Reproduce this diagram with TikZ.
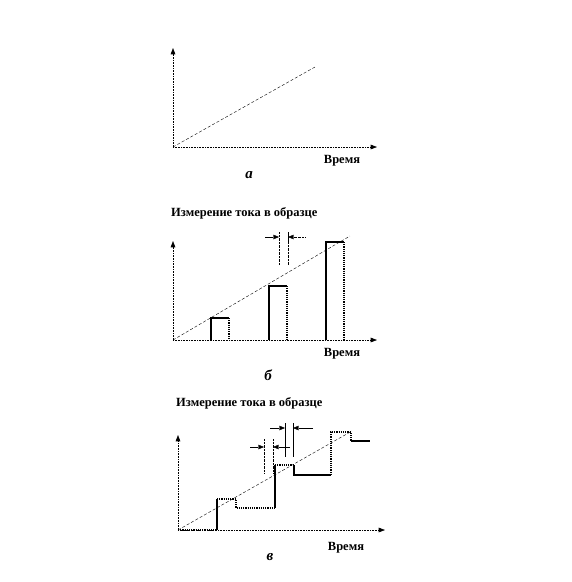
\documentclass[tikz,border=0pt]{standalone}
\usepackage{fontspec}
\setmainfont{Liberation Serif}
\usetikzlibrary{arrows.meta,calc}
\tikzset{
  ax/.style={densely dotted, semithick, -{Triangle[length=2.2mm,width=1.6mm]}},
  ref/.style={densely dashed, thin},
  lvl/.style={very thick, line join=miter},
  lvld/.style={very thick, densely dotted},
  gap/.style={-{Triangle[length=2mm,width=1.6mm]}, thin},
  lbl/.style={font=\bfseries\fontsize{12.5}{14}\selectfont, inner sep=0pt},
  ttl/.style={font=\bfseries\fontsize{12.5}{14}\selectfont, inner sep=0pt, anchor=west},
  tag/.style={font=\bfseries\itshape\fontsize{15}{16}\selectfont, inner sep=0pt},
}
\begin{document}
\begin{tikzpicture}[x=1pt,y=-1pt]
  \useasboundingbox (0,0) rectangle (572,582);
  % --- a: linear sweep
  \coordinate (oa) at (173,147);
  \draw[ax] (oa) -- (173,48);
  \draw[ax] (oa) -- (377,147);
  \draw[ref] (oa) -- (315,67);
  \node[lbl] (ta) at (342,161) {Время};
  \node[tag] (na) at (249,175) {а};
  % --- b: pulses
  \node[ttl] (hb) at (171,213) {Измерение тока в образце};
  \coordinate (ob) at (173,340);
  \draw[ax] (ob) -- (173,241);
  \draw[ax] (ob) -- (377,340);
  \draw[ref] (ob) -- (350,236);
  \foreach \xa/\xb/\yt in {211/229/318, 269/287/286, 326/344/242} {
    \draw[lvl] (\xa,340) -- (\xa,\yt) -- (\xb,\yt);
    \draw[lvld] (\xb,\yt) -- (\xb,340);
  }
  \draw[densely dotted] (279,232) -- (279,265);
  \draw[densely dotted] (288,242) -- (288,265);
  \draw[thin] (288,232) -- (288,242);
  \draw[gap] (265,237) -- (279,237);
  \draw[gap, densely dotted] (305,237) -- (288,237);
  \node[lbl] (tb) at (342,354) {Время};
  \node[tag] (nb) at (268,375) {б};
  % --- v: staircase
  \node[ttl] (hc) at (176,403) {Измерение тока в образце};
  \coordinate (oc) at (178,530);
  \draw[ax] (oc) -- (178,435);
  \draw[ax] (oc) -- (385,530);
  \draw[ref] (oc) -- (352,431);
  \draw[lvld] (oc) -- (217,530);
  \draw[lvl] (217,530) -- (217,499);
  \draw[lvld] (217,499) -- (236,499) -- (236,508) -- (275,508);
  \draw[lvl] (275,508) -- (275,465);
  \draw[lvld] (275,465) -- (294,465);
  \draw[lvl] (294,465) -- (294,475) -- (331,475);
  \draw[lvld] (331,475) -- (331,432) -- (351,432) -- (351,441);
  \draw[lvl] (351,441) -- (370,441);
  \draw[densely dotted] (264,439) -- (264,473);
  \draw[densely dotted] (273,439) -- (273,473);
  \draw[gap] (250,447) -- (264,447);
  \draw[gap] (290,447) -- (273,447);
  \draw[thin] (285,423) -- (285,457);
  \draw[thin] (293,423) -- (293,457);
  \draw[gap] (270,428) -- (285,428);
  \draw[gap] (313,428) -- (293,428);
  \node[lbl] (tc) at (346,548) {Время};
  \node[tag] (nc) at (270,557) {в};
\end{tikzpicture}
\end{document}
